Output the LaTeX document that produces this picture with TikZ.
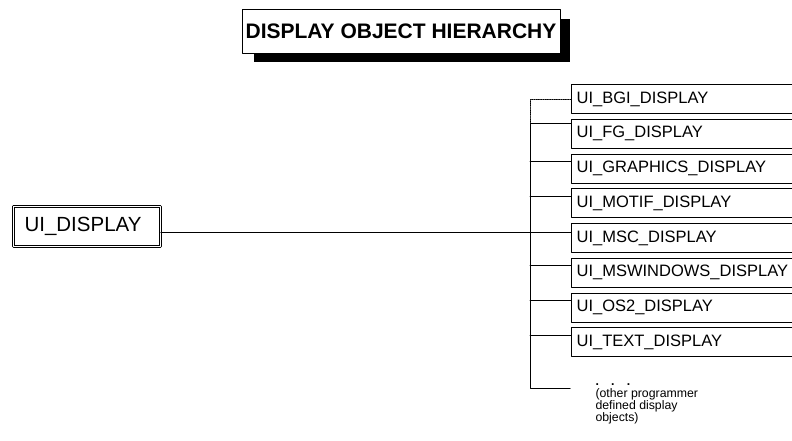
\documentclass[tikz,border=0pt]{standalone}
\usepackage{fontspec}
\setmainfont{Liberation Sans}
\begin{document}
\begin{tikzpicture}[x=1pt,y=-1pt,line join=round,line cap=round,line width=1pt,
	cls/.style={draw,line width=1.2pt,anchor=north west,minimum height=29pt,
		text width=245pt,align=left,inner xsep=5pt,inner ysep=0pt,
		font=\fontsize{16.5}{19}\selectfont},
	]
	\useasboundingbox (0,0) rectangle (792,440);
	% title with its shadow
	\fill (254,19) rectangle (570,62);
	\node[draw,fill=white,line width=.8pt,minimum width=318pt,minimum height=44pt,
		font=\bfseries\fontsize{21}{24}\selectfont] (title) at (401,31) {DISPLAY OBJECT HIERARCHY};
	% base class
	\node[draw,double,double distance=1.6pt,line width=.8pt,minimum width=147pt,minimum height=40pt,
		font=\fontsize{20.5}{24}\selectfont] (uid) at (87,226.5) {\hspace*{-8pt}UI\_DISPLAY};
	% derived classes
	\node[cls] (bgi) at (571,84) {UI\_BGI\_DISPLAY};
	\node[cls] (fg) at (571,118.75) {UI\_FG\_DISPLAY};
	\node[cls] (gra) at (571,153.5) {UI\_GRAPHICS\_DISPLAY};
	\node[cls] (mot) at (571,188.25) {UI\_MOTIF\_DISPLAY};
	\node[cls] (msc) at (571,223) {UI\_MSC\_DISPLAY};
	\node[cls] (msw) at (571,257.75) {UI\_MSWINDOWS\_DISPLAY};
	\node[cls] (os2) at (571,292.5) {UI\_OS2\_DISPLAY};
	\node[cls] (txt) at (571,327.25) {UI\_TEXT\_DISPLAY};
	\node[anchor=north west,align=left,inner sep=0pt,font=\fontsize{12.3}{12}\selectfont] (oth) at (595,383)
		{\textbf{.\quad.\quad.}\\(other programmer\\defined display\\objects)};
	\coordinate (tk) at (530,0);
	\coordinate (oend) at (570,388);
	% connectors
	\draw[densely dotted,line width=.8pt] (bgi.west) -- (bgi.west -| tk) -- ([yshift=-5pt]fg.north west -| tk);
	\draw ([yshift=-5pt]fg.north west) -- ([yshift=-5pt]fg.north west -| tk) -- (oend -| tk) -- (oend);
	\draw ([yshift=-8pt]gra.north west) -- ([yshift=-8pt]gra.north west -| tk);
	\draw ([yshift=-8pt]mot.north west) -- ([yshift=-8pt]mot.north west -| tk);
	\draw ([yshift=-5.5pt]uid.east) -- ([yshift=-5.5pt]uid.east -| msc.west);
	\draw ([yshift=-8pt]msw.north west) -- ([yshift=-8pt]msw.north west -| tk);
	\draw ([yshift=-8pt]os2.north west) -- ([yshift=-8pt]os2.north west -| tk);
	\draw ([yshift=-8pt]txt.north west) -- ([yshift=-8pt]txt.north west -| tk);
\end{tikzpicture}
\end{document}
